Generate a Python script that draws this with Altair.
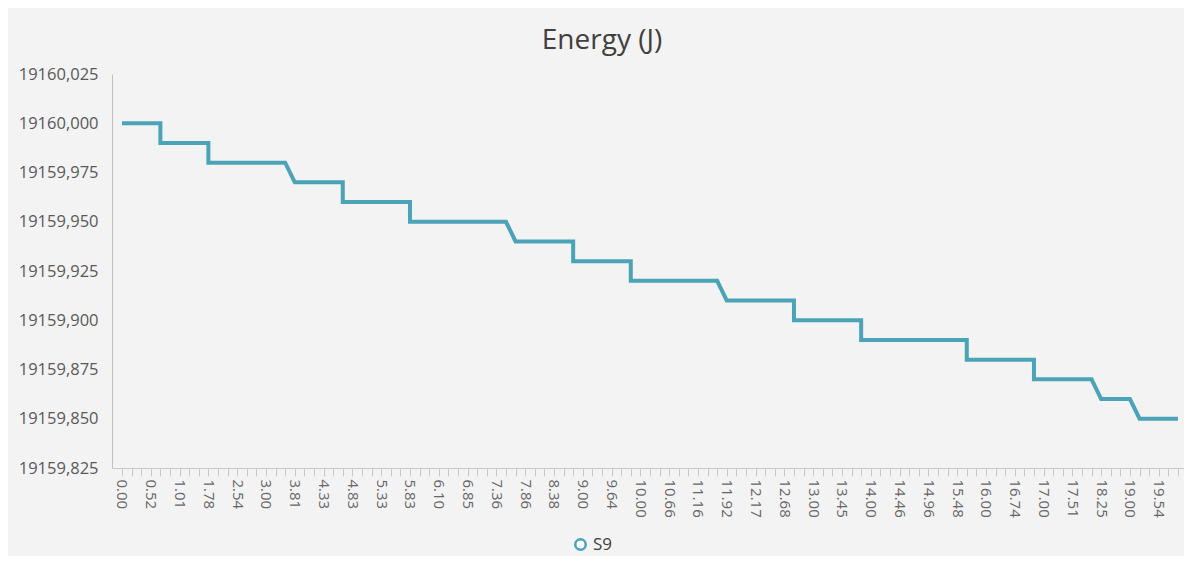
import altair as alt
import pandas as pd

# Tick labels shown on the category axis (every third sample)
TIME_LABELS = ["0.00", "0.52", "1.01", "1.78", "2.54", "3.00", "3.81", "4.33", "4.83",
               "5.33", "5.83", "6.10", "6.85", "7.36", "7.86", "8.38", "9.00", "9.64",
               "10.00", "10.66", "11.16", "11.92", "12.17", "12.68", "13.00", "13.45",
               "14.00", "14.46", "14.96", "15.48", "16.00", "16.74", "17.00", "17.51",
               "18.25", "19.00", "19.54"]
N_SAMPLES = 111

# Step line corner points: sample index and energy (J)
SAMPLE_IDX = [0, 4, 4, 9, 9, 17, 18, 23, 23, 30, 30, 40, 41, 47, 47, 53, 53, 62, 63,
              70, 70, 77, 77, 88, 88, 95, 95, 101, 102, 105, 106, 110]
ENERGY = [19160.00, 19160.00, 19159.99, 19159.99, 19159.98, 19159.98, 19159.97,
          19159.97, 19159.96, 19159.96, 19159.95, 19159.95, 19159.94, 19159.94,
          19159.93, 19159.93, 19159.92, 19159.92, 19159.91, 19159.91, 19159.90,
          19159.90, 19159.89, 19159.89, 19159.88, 19159.88, 19159.87, 19159.87,
          19159.86, 19159.86, 19159.85, 19159.85]
SERIES = "S9"

Y_TICKS = [19159.825, 19159.850, 19159.875, 19159.900, 19159.925, 19159.950,
           19159.975, 19160.000, 19160.025]

df = pd.DataFrame({
    "sample": SAMPLE_IDX,
    "energy": ENERGY,
    "order": list(range(len(SAMPLE_IDX))),
    "series": [SERIES] * len(SAMPLE_IDX),
})

label_arr = "[" + ",".join("'" + t + "'" for t in TIME_LABELS) + "]"
x_label_expr = f"datum.value % 3 == 0 ? {label_arr}[datum.value / 3] : ''"

FONT = "Open Sans"
LINE = "#4aa3b6"

chart = alt.Chart(df).mark_line(strokeWidth=4).encode(
    x=alt.X("sample:Q",
            scale=alt.Scale(domain=[-1.04, 110.63], nice=False, zero=False),
            axis=alt.Axis(title=None, values=list(range(N_SAMPLES)),
                          labelExpr=x_label_expr, labelAngle=90, labelOverlap=False,
                          labelFlush=False, labelFontSize=15, labelColor="#666666",
                          labelFont=FONT, labelPadding=3, grid=False,
                          domainColor="#c8c8c8", tickColor="#c8c8c8", tickSize=8,
                          labelAlign="left", labelBaseline="middle")),
    y=alt.Y("energy:Q",
            scale=alt.Scale(domain=[19159.825, 19160.025], nice=False, zero=False),
            axis=alt.Axis(title=None, values=Y_TICKS,
                          labelExpr="replace(format(datum.value, '.3f'), '.', ',')",
                          ticks=False, grid=False, domainColor="#c0c0c0",
                          labelFontSize=16.5, labelColor="#595959", labelFont=FONT,
                          labelPadding=14)),
    color=alt.Color("series:N", scale=alt.Scale(range=[LINE]),
                    legend=alt.Legend(title=None, orient="none", legendX=460, legendY=462,
                                      symbolType="circle", symbolSize=110,
                                      symbolStrokeWidth=2.5, symbolFillColor="#ffffff",
                                      labelFontSize=17, labelColor="#404040",
                                      labelFont=FONT, direction="horizontal")),
    order="order:Q",
).properties(
    width=1072,
    height=394,
    title=alt.TitleParams("Energy (J)", fontSize=28, font=FONT, fontWeight="normal",
                          color="#404040", offset=11, dx=-46),
    background="#f3f3f3",
    padding={"left": 104, "top": 66, "right": 0, "bottom": 88},
    autosize=alt.AutoSizeParams(type="none"),
).configure_view(stroke=None)

chart.save("out.html", embed_options={"renderer": "svg", "actions": False})
